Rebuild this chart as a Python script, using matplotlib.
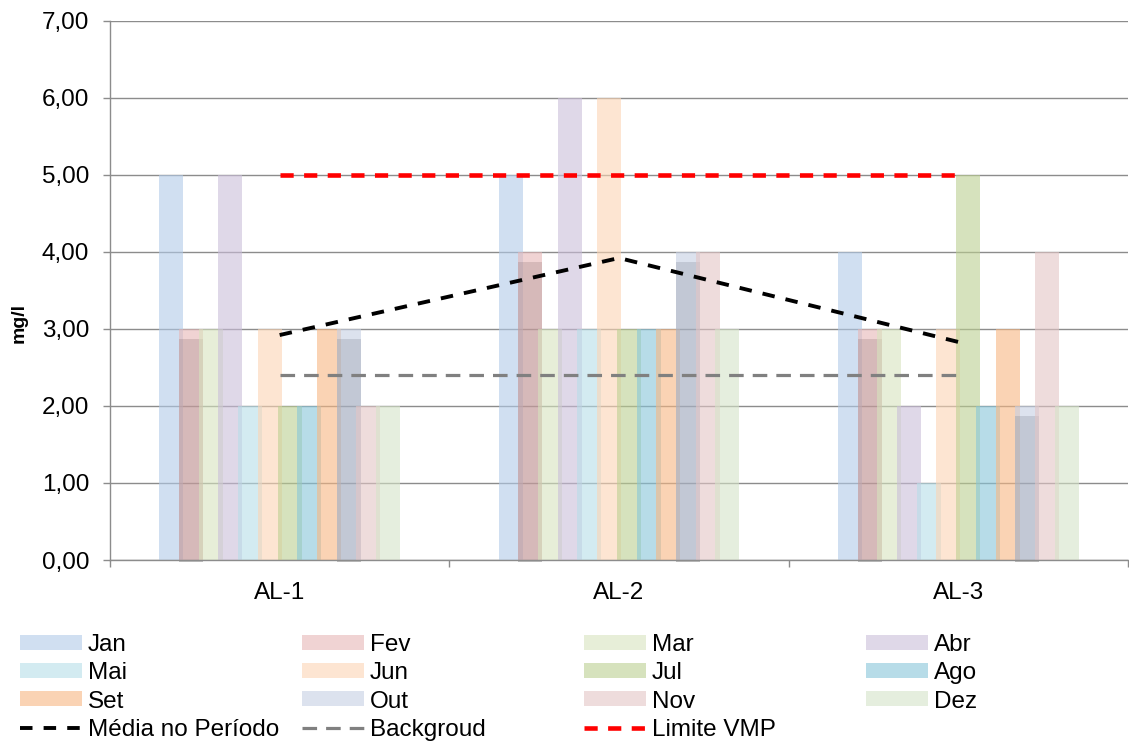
import matplotlib
matplotlib.use("Agg")
import matplotlib.pyplot as plt
from matplotlib.patches import Patch
from matplotlib.lines import Line2D
import numpy as np

# ---- data -------------------------------------------------------------
stations = ["AL-1", "AL-2", "AL-3"]
months = ["Jan", "Fev", "Mar", "Abr", "Mai", "Jun",
          "Jul", "Ago", "Set", "Out", "Nov", "Dez"]

al1 = [5, 3, 3, 5, 2, 3, 2, 2, 3, 3, 2, 2]
al2 = [5, 4, 3, 6, 3, 6, 3, 3, 3, 4, 4, 3]
al3 = [4, 3, 3, 2, 1, 3, 5, 2, 3, 2, 4, 2]

media_periodo = [2.92, 3.92, 2.83]
background = [2.40, 2.40, 2.40]
limite_vmp = [5.00, 5.00, 5.00]

y_ticks = [0, 1, 2, 3, 4, 5, 6, 7]

# ---- style ------------------------------------------------------------
plt.rcParams["font.family"] = ["Liberation Sans", "DejaVu Sans"]
plt.rcParams["lines.scale_dashes"] = False

month_colors = ["#B1CAE9", "#E6B6B6", "#D7E4BE", "#CABED9", "#B7DEE8", "#FCD4B4",
                "#BCD091", "#87C6D9", "#F8B782", "#C5CFE4", "#E4C5C5", "#D5E3C8"]
bar_alpha = 0.6
shadowed = {"Fev", "Out"}
shadow_drop = 0.13
grid_grey = "#8C8C8C"
fs = 17.5

W, H = 1129, 742
fig = plt.figure(figsize=(W / 100, H / 100), dpi=100)
ax = fig.add_axes([110 / W, 1 - 560 / H, 1018 / W, (560 - 20.7) / H])

x = np.arange(len(stations))
step = 0.0581
width = 0.0707
table = np.array([al1, al2, al3])

for i, m in enumerate(months):
    pos = x + (i - 5.5) * step
    vals = table[:, i]
    if m in shadowed:
        ax.bar(pos, vals - shadow_drop + 0.03, width, bottom=-0.03,
               color="black", alpha=0.25, linewidth=0, zorder=2, clip_on=False)
    ax.bar(pos, vals, width, color=month_colors[i], alpha=bar_alpha,
           linewidth=0, zorder=2)

media_style = dict(color="black", lw=2.8, dashes=(9, 8))
bg_style = dict(color="#808080", lw=2.3, dashes=(10.5, 6.5))
vmp_style = dict(color="#FF0000", lw=3.3, dashes=(9.5, 7.5))

ax.plot(x, media_periodo, zorder=4, dash_capstyle="butt", **media_style)
ax.plot(x, background, zorder=4, dash_capstyle="butt", **bg_style)
ax.plot(x, limite_vmp, zorder=4, dash_capstyle="butt", **vmp_style)

# ---- axes -------------------------------------------------------------
ax.set_xlim(-0.5, len(stations) - 0.5)
ax.set_ylim(0, 7)
ax.set_yticks(y_ticks)
ax.set_yticklabels([f"{v:.2f}".replace(".", ",") for v in y_ticks], fontsize=fs)
ax.yaxis.grid(True, color=grid_grey, linewidth=1.0)
ax.set_axisbelow(True)
ax.tick_params(axis="y", length=5, width=1, color=grid_grey, pad=10)

ax.set_xticks(x)
ax.set_xticklabels(stations, fontsize=fs)
ax.set_xticks(np.arange(-0.5, len(stations)), minor=True)
ax.tick_params(axis="x", which="major", length=0, pad=16)
ax.tick_params(axis="x", which="minor", length=5, width=1, color=grid_grey)

for side in ("top", "right"):
    ax.spines[side].set_visible(False)
for side in ("left", "bottom"):
    ax.spines[side].set_color(grid_grey)
    ax.spines[side].set_linewidth(1.0)

fig.text(19 / W, 1 - 323 / H, "mg/l", rotation=90, ha="center", va="center",
         fontsize=14, fontweight="bold")

# ---- legend: four evenly spaced columns, filled row by row -----------
bar_handles = [Patch(facecolor=c, alpha=bar_alpha, linewidth=0) for c in month_colors]
line_handles = [Line2D([], [], **media_style),
                Line2D([], [], **bg_style),
                Line2D([], [], **vmp_style)]
line_labels = ["Média no Período", "Backgroud", "Limite VMP"]

handles = bar_handles + line_handles
labels = months + line_labels
ncol = 4
col_x = [15, 297, 579, 861]
for c in range(ncol):
    fig.legend(handles[c::ncol], labels[c::ncol], loc="upper left",
               bbox_to_anchor=(col_x[c] / W, 1 - 629 / H),
               frameon=False, fontsize=fs, handlelength=2.55, handleheight=0.58,
               handletextpad=0.25, labelspacing=0.26, borderaxespad=0,
               borderpad=0.2)

fig.savefig("out.png", dpi=100)
